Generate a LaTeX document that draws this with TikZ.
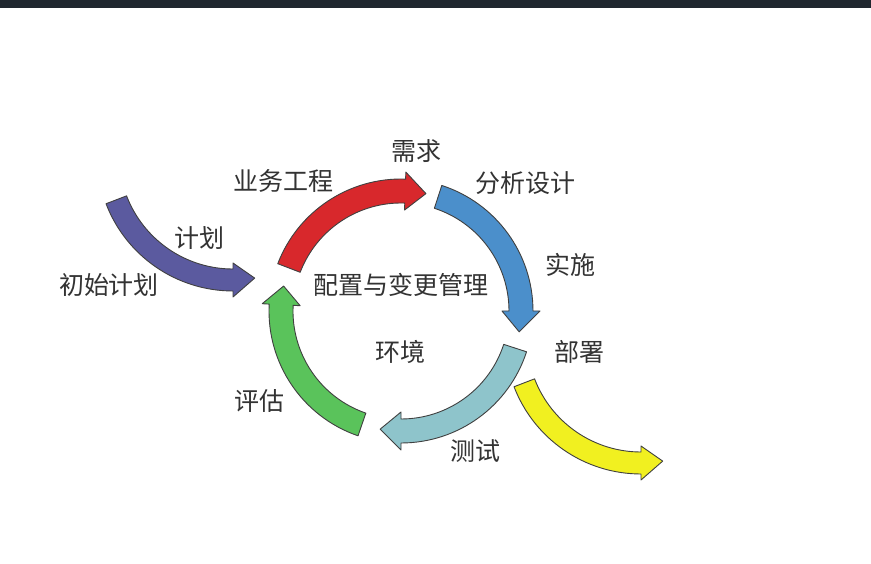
\documentclass[tikz,border=0pt]{standalone}
\usepackage{fontspec}
\newfontfamily\cjk{Noto Sans CJK SC}
\usepackage{tikz}
\usetikzlibrary{arrows.meta, calc, positioning}
\usepackage{xcolor}
\definecolor{mRed}{HTML}{D8282C}
\definecolor{mBlue}{HTML}{4B8FCB}
\definecolor{mAqua}{HTML}{8EC4CB}
\definecolor{mGreen}{HTML}{5AC35B}
\definecolor{mPurple}{HTML}{5B5A9F}
\definecolor{mYellow}{HTML}{F1F020}
\definecolor{mInk}{HTML}{333333}
\definecolor{mBar}{HTML}{20272F}
\tikzset{
  lbl/.style={font=\cjk\fontsize{25}{29}\selectfont, text=mInk, inner sep=0pt},
  bandarrow/.style={draw=black!75, line width=0.9pt, line join=round}
}

\begin{document}
\begin{tikzpicture}[x=1pt, y=1pt]
  \useasboundingbox (0,0) rectangle (871,563);
  \fill[white] (0,0) rectangle (871,563);
  \fill[mBar] (0,555) rectangle (871,563);
  % ring of four arrows, clockwise (tail / barbs / tip angles)
  \begin{scope}[shift={(401,252)}]
    \foreach \c/\a/\b/\t in {mRed/159/88/78, mBlue/72/0/-10, mAqua/-18/-90/-100, mGreen/251/177/168}
      \filldraw[bandarrow, fill=\c] (\a:132pt) arc[start angle=\a, end angle=\b, radius=132pt]
        -- (\b:139pt) -- (\t:120pt) -- (\b:101pt) -- (\b:108pt)
        arc[start angle=\b, end angle=\a, radius=108pt] -- cycle;
  \end{scope}
  % side arrows: in (plan) and out (deploy)
  \foreach \c/\cx/\cy in {mPurple/233/408, mYellow/641/225} {
    \begin{scope}[shift={(\cx,\cy)}]
      \filldraw[bandarrow, fill=\c] (201:136pt) arc[start angle=201, end angle=270, radius=136pt]
        -- (270:142pt) -- (280:125pt) -- (270:108pt) -- (270:114pt)
        arc[start angle=270, end angle=201, radius=114pt] -- cycle;
    \end{scope}
  }
  % labels
  \node[lbl] (req)      at (416,412) {需求};
  \node[lbl] (bizeng)   at (283,382) {业务工程};
  \node[lbl] (design)   at (525,380) {分析设计};
  \node[lbl] (impl)     at (570,298) {实施};
  \node[lbl] (deploy)   at (579,211) {部署};
  \node[lbl] (test)     at (475,112) {测试};
  \node[lbl] (assess)   at (259,162) {评估};
  \node[lbl] (plan)     at (199,325) {计划};
  \node[lbl] (initplan) at (109,278) {初始计划};
  \node[lbl] (cfg)      at (401,278) {配置与变更管理};
  \node[lbl] (env)      at (400,211) {环境};
\end{tikzpicture}
\end{document}
